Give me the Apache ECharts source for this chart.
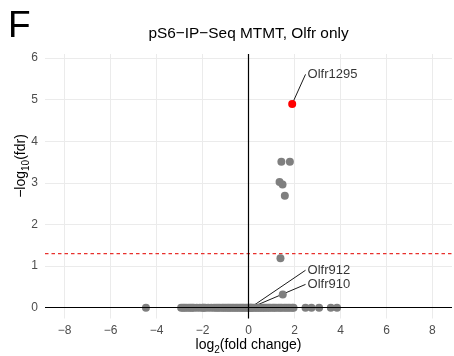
<!DOCTYPE html>
<html><head><meta charset="utf-8">
<script src="https://cdn.jsdelivr.net/npm/echarts@6/dist/echarts.min.js"></script>
<style>html,body{margin:0;padding:0;background:#fff}#c{width:454px;height:356px}</style>
</head><body><div id="c"></div>
<script>
// ---- data ----
const panelTag = 'F';
const chartTitle = 'pS6\u2212IP\u2212Seq MTMT, Olfr only';
const xTicks = [-8, -6, -4, -2, 0, 2, 4, 6, 8];
const yTicks = [0, 1, 2, 3, 4, 5, 6];
// log2 fold change of genes with -log10(fdr) = 0
const baselineX = [-4.46,
  -2.93, -2.85, -2.78, -2.70, -2.60, -2.52, -2.45, -2.38, -2.25, -2.12,
  -2.00, -1.95, -1.88, -1.75, -1.62, -1.50, -1.41, -1.33, -1.25, -1.15,
  -1.08, -1.00, -0.92, -0.85, -0.78, -0.70, -0.63, -0.55, -0.48, -0.40,
  -0.33, -0.26, -0.20, -0.12, -0.05, 0.02, 0.15, 0.22, 0.30, 0.36,
  0.44, 0.50, 0.58, 0.65, 0.72, 0.80, 0.88, 0.95, 1.05, 1.12,
  1.20, 1.30, 1.38, 1.45, 1.55, 1.63, 1.72, 1.80, 1.90, 1.96,
  2.48, 2.74, 3.07, 3.58, 3.85];
// genes above zero
const sigX = [1.43, 1.80, 1.35, 1.48, 1.58, 1.39, 1.49];
const sigY = [3.51, 3.51, 3.02, 2.96, 2.69, 1.19, 0.32];
// highlighted gene
const hitNames = ['Olfr1295'];
const hitX = [1.90];
const hitY = [4.90];
// labelled genes (Olfr912, Olfr910 lie on the baseline)
const labelNames = ['Olfr1295', 'Olfr912', 'Olfr910'];
const labelPointX = [1.90, 0.08, 0.10];
const labelPointY = [4.90, 0.00, 0.00];
const labelTextX = [2.48, 2.48, 2.48];
const labelTextY = [5.61, 0.90, 0.56];
const fdrCut = 0.05;

// ---- chart ----
const FONT = 'Liberation Sans, Arial, Helvetica, sans-serif';
const minus = v => String(v).replace('-', '\u2212');
const chart = echarts.init(document.getElementById('c'), null, {renderer: 'canvas'});
const gray = '#7f7f7f';
const X_MIN = -8.85, X_MAX = 8.85;
const cutY = -Math.log10(fdrCut);

const option = {
  animation: false,
  backgroundColor: '#ffffff',
  textStyle: {fontFamily: FONT},
  grid: {left: 45, right: 2, top: 54, bottom: 37.5, outerBoundsMode: 'none', containLabel: false},
  xAxis: {
    type: 'value', min: X_MIN, max: X_MAX,
    axisLine: {show: false}, axisTick: {show: false, customValues: xTicks},
    axisLabel: {customValues: xTicks, formatter: minus, color: '#4d4d4d', fontSize: 12, margin: 6, fontFamily: FONT},
    splitLine: {show: true, lineStyle: {color: '#ebebeb', width: 1}},
    minorSplitLine: {show: false}
  },
  yAxis: {
    type: 'value', min: -0.26, max: 6.1,
    axisLine: {show: false}, axisTick: {show: false, customValues: yTicks},
    axisLabel: {customValues: yTicks, formatter: minus, color: '#4d4d4d', fontSize: 12, margin: 7, fontFamily: FONT},
    splitLine: {show: true, lineStyle: {color: '#ebebeb', width: 1}}
  },
  graphic: [
    {type: 'text', left: 8, top: 8, z: 10, style: {text: panelTag, font: '37px ' + FONT, fill: '#000'}},
    {type: 'text', x: 248.5, y: 34, z: 10, style: {text: chartTitle, font: '15.4px ' + FONT, fill: '#000', align: 'center', verticalAlign: 'middle'}},
    {type: 'text', x: 248.5, y: 345, z: 10, style: {
      text: '{m|log}{s|2}{m|(fold change)}', align: 'center', verticalAlign: 'middle',
      rich: {m: {fontSize: 14, fontFamily: FONT, fill: '#000', color: '#000', lineHeight: 20, verticalAlign: 'middle'},
             s: {fontSize: 10, fontFamily: FONT, fill: '#000', color: '#000', lineHeight: 10, verticalAlign: 'bottom'}}}},
    {type: 'text', x: 21, y: 166, rotation: Math.PI / 2, z: 10, style: {
      text: '{m|\u2212log}{s|10}{m|(fdr)}', align: 'center', verticalAlign: 'middle',
      rich: {m: {fontSize: 14, fontFamily: FONT, fill: '#000', color: '#000', lineHeight: 20, verticalAlign: 'middle'},
             s: {fontSize: 10, fontFamily: FONT, fill: '#000', color: '#000', lineHeight: 10, verticalAlign: 'bottom'}}}}
  ],
  series: [
    {
      type: 'scatter', data: [], z: 1, silent: true,
      markLine: {
        silent: true, symbol: 'none', label: {show: false}, animation: false,
        lineStyle: {color: '#000', width: 1.2, type: 'solid'},
        data: [{yAxis: 0}]
      }
    },
    {
      name: 'threshold', type: 'line', z: 1, silent: true, symbol: 'none',
      lineStyle: {color: '#e8302c', width: 1.1, type: [3.5, 3], opacity: 1},
      itemStyle: {color: '#e8302c'},
      data: [[X_MIN, cutY], [X_MAX, cutY]]
    },
    {
      type: 'lines', coordinateSystem: 'cartesian2d', z: 2, silent: true,
      lineStyle: {color: '#000', width: 0.9, opacity: 1},
      data: labelNames.map((n, i) => ({coords: [[labelPointX[i], labelPointY[i]], [labelTextX[i], labelTextY[i]]]}))
    },
    {
      type: 'scatter', z: 3, symbolSize: 8, itemStyle: {color: gray, opacity: 1},
      data: baselineX.map(x => [x, 0]).concat(sigX.map((x, i) => [x, sigY[i]]))
        .concat(labelNames.slice(1).map((n, i) => [labelPointX[i + 1], labelPointY[i + 1]]))
    },
    {
      type: 'scatter', z: 4, symbolSize: 8, itemStyle: {color: '#ff0000', opacity: 1},
      data: hitX.map((x, i) => ({name: hitNames[i], value: [x, hitY[i]]}))
    },
    {
      type: 'scatter', z: 5, symbolSize: 0, silent: true,
      label: {show: true, position: 'right', distance: 2, formatter: p => p.name, color: '#000', fontSize: 13, fontFamily: FONT},
      data: labelNames.map((n, i) => ({name: n, value: [labelTextX[i], labelTextY[i]]}))
    },
    {
      type: 'scatter', data: [], z: 6, silent: true,
      markLine: {
        silent: true, symbol: 'none', label: {show: false}, animation: false,
        lineStyle: {color: '#000', width: 1.2, type: 'solid'},
        data: [{xAxis: 0}]
      }
    }
  ]
};
chart.setOption(option);
</script></body></html>
